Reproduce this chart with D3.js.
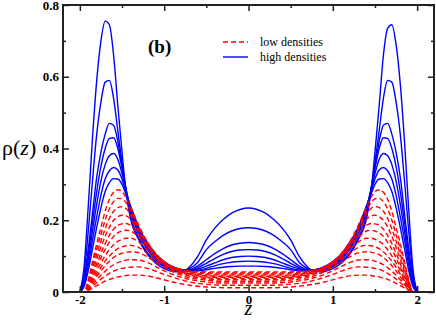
<!DOCTYPE html>
<html>
<head>
<meta charset="utf-8">
<script src="https://cdn.jsdelivr.net/npm/d3@7"></script>
<style>
  html, body { margin: 0; padding: 0; background: #fff; }
  svg { display: block; }
</style>
</head>
<body>
<div id="main"></div>
<script>
'use strict';

// z positions (same for every profile)
var zValues = [-2.0, -1.95, -1.9, -1.85, -1.8, -1.75, -1.7, -1.65, -1.6, -1.55, -1.5, -1.45, -1.4,
  -1.3, -1.2, -1.1, -1.0, -0.9, -0.8, -0.7, -0.6, -0.5, -0.4, -0.3, -0.2, -0.1, 0,
  0.1, 0.2, 0.3, 0.4, 0.5, 0.6, 0.7, 0.8, 0.9, 1.0, 1.1, 1.2, 1.3,
  1.4, 1.45, 1.5, 1.55, 1.6, 1.65, 1.7, 1.75, 1.8, 1.85, 1.9, 1.95, 2.0];

// high densities (solid blue)
var highDensities = [
  [0, 0.07, 0.24, 0.43, 0.59, 0.70, 0.755, 0.745, 0.66, 0.52, 0.39, 0.275, 0.205, 0.145, 0.105, 0.08, 0.065, 0.057, 0.056, 0.07, 0.10, 0.145, 0.178, 0.202, 0.22, 0.23, 0.234,
   0.23, 0.22, 0.202, 0.178, 0.145, 0.10, 0.07, 0.056, 0.057, 0.065, 0.08, 0.105, 0.145, 0.205, 0.275, 0.39, 0.52, 0.66, 0.735, 0.745, 0.69, 0.58, 0.42, 0.23, 0.065, 0],
  [0, 0.05, 0.17, 0.31, 0.44, 0.53, 0.585, 0.59, 0.54, 0.45, 0.36, 0.28, 0.215, 0.15, 0.11, 0.085, 0.07, 0.061, 0.058, 0.065, 0.083, 0.118, 0.14, 0.158, 0.17, 0.177, 0.179,
   0.177, 0.17, 0.158, 0.14, 0.118, 0.083, 0.065, 0.058, 0.061, 0.07, 0.085, 0.11, 0.15, 0.215, 0.28, 0.36, 0.45, 0.54, 0.59, 0.585, 0.53, 0.44, 0.31, 0.17, 0.05, 0],
  [0, 0.035, 0.12, 0.22, 0.32, 0.39, 0.44, 0.47, 0.465, 0.42, 0.35, 0.28, 0.225, 0.16, 0.118, 0.09, 0.073, 0.063, 0.059, 0.062, 0.073, 0.09, 0.107, 0.121, 0.131, 0.136, 0.138,
   0.136, 0.131, 0.121, 0.107, 0.09, 0.073, 0.062, 0.059, 0.063, 0.073, 0.09, 0.118, 0.16, 0.225, 0.28, 0.35, 0.42, 0.465, 0.47, 0.44, 0.39, 0.32, 0.22, 0.12, 0.035, 0],
  [0, 0.03, 0.105, 0.195, 0.28, 0.35, 0.40, 0.428, 0.43, 0.40, 0.345, 0.285, 0.23, 0.165, 0.122, 0.094, 0.076, 0.065, 0.06, 0.061, 0.068, 0.08, 0.093, 0.105, 0.113, 0.117, 0.118,
   0.117, 0.113, 0.105, 0.093, 0.08, 0.068, 0.061, 0.06, 0.065, 0.076, 0.094, 0.122, 0.165, 0.23, 0.285, 0.345, 0.40, 0.43, 0.428, 0.40, 0.35, 0.28, 0.195, 0.105, 0.03, 0],
  [0, 0.025, 0.09, 0.17, 0.245, 0.31, 0.355, 0.38, 0.386, 0.37, 0.33, 0.28, 0.235, 0.17, 0.128, 0.098, 0.079, 0.067, 0.061, 0.06, 0.064, 0.072, 0.081, 0.09, 0.096, 0.099, 0.100,
   0.099, 0.096, 0.09, 0.081, 0.072, 0.064, 0.06, 0.061, 0.067, 0.079, 0.098, 0.128, 0.17, 0.235, 0.28, 0.33, 0.37, 0.386, 0.38, 0.355, 0.31, 0.245, 0.17, 0.09, 0.025, 0],
  [0, 0.02, 0.075, 0.145, 0.21, 0.27, 0.315, 0.338, 0.347, 0.34, 0.315, 0.275, 0.24, 0.175, 0.133, 0.102, 0.082, 0.069, 0.062, 0.059, 0.061, 0.066, 0.073, 0.079, 0.083, 0.085, 0.086,
   0.085, 0.083, 0.079, 0.073, 0.066, 0.061, 0.059, 0.062, 0.069, 0.082, 0.102, 0.133, 0.175, 0.24, 0.275, 0.315, 0.34, 0.347, 0.338, 0.315, 0.27, 0.21, 0.145, 0.075, 0.02, 0],
  [0, 0.015, 0.06, 0.12, 0.18, 0.235, 0.28, 0.305, 0.316, 0.315, 0.30, 0.27, 0.24, 0.18, 0.138, 0.106, 0.085, 0.071, 0.063, 0.059, 0.059, 0.062, 0.066, 0.069, 0.071, 0.072, 0.072,
   0.072, 0.071, 0.069, 0.066, 0.062, 0.059, 0.059, 0.063, 0.071, 0.085, 0.106, 0.138, 0.18, 0.24, 0.27, 0.30, 0.315, 0.316, 0.305, 0.28, 0.235, 0.18, 0.12, 0.06, 0.015, 0]
];

// low densities (dashed red)
var lowDensities = [
  [0, 0, 0.035, 0.085, 0.135, 0.18, 0.225, 0.258, 0.278, 0.285, 0.28, 0.262, 0.238, 0.185, 0.14, 0.107, 0.085, 0.071, 0.063, 0.059, 0.057, 0.056, 0.056, 0.056, 0.056, 0.056, 0.056,
   0.056, 0.056, 0.056, 0.056, 0.056, 0.057, 0.059, 0.063, 0.071, 0.085, 0.107, 0.14, 0.185, 0.238, 0.262, 0.28, 0.285, 0.278, 0.258, 0.225, 0.18, 0.135, 0.085, 0.035, 0, 0],
  [0, 0, 0.03, 0.075, 0.12, 0.16, 0.2, 0.232, 0.252, 0.261, 0.26, 0.248, 0.228, 0.18, 0.138, 0.106, 0.084, 0.07, 0.062, 0.057, 0.055, 0.054, 0.053, 0.053, 0.053, 0.053, 0.053,
   0.053, 0.053, 0.053, 0.053, 0.054, 0.055, 0.057, 0.062, 0.07, 0.084, 0.106, 0.138, 0.18, 0.228, 0.248, 0.26, 0.261, 0.252, 0.232, 0.2, 0.16, 0.12, 0.075, 0.03, 0, 0],
  [0, 0, 0.026, 0.065, 0.105, 0.142, 0.176, 0.205, 0.225, 0.235, 0.238, 0.232, 0.217, 0.175, 0.136, 0.105, 0.083, 0.069, 0.06, 0.055, 0.052, 0.051, 0.05, 0.05, 0.05, 0.05, 0.05,
   0.05, 0.05, 0.05, 0.05, 0.051, 0.052, 0.055, 0.06, 0.069, 0.083, 0.105, 0.136, 0.175, 0.217, 0.232, 0.238, 0.235, 0.225, 0.205, 0.176, 0.142, 0.105, 0.065, 0.026, 0, 0],
  [0, 0, 0.022, 0.056, 0.092, 0.125, 0.155, 0.181, 0.2, 0.21, 0.214, 0.212, 0.203, 0.168, 0.133, 0.104, 0.082, 0.068, 0.059, 0.053, 0.05, 0.048, 0.047, 0.047, 0.047, 0.047, 0.047,
   0.047, 0.047, 0.047, 0.047, 0.048, 0.05, 0.053, 0.059, 0.068, 0.082, 0.104, 0.133, 0.168, 0.203, 0.212, 0.214, 0.21, 0.2, 0.181, 0.155, 0.125, 0.092, 0.056, 0.022, 0, 0],
  [0, 0, 0.019, 0.048, 0.079, 0.108, 0.135, 0.158, 0.175, 0.186, 0.19, 0.191, 0.186, 0.16, 0.129, 0.102, 0.081, 0.067, 0.057, 0.051, 0.047, 0.045, 0.044, 0.044, 0.044, 0.044, 0.044,
   0.044, 0.044, 0.044, 0.044, 0.045, 0.047, 0.051, 0.057, 0.067, 0.081, 0.102, 0.129, 0.16, 0.186, 0.191, 0.19, 0.186, 0.175, 0.158, 0.135, 0.108, 0.079, 0.048, 0.019, 0, 0],
  [0, 0, 0.016, 0.042, 0.069, 0.095, 0.119, 0.139, 0.155, 0.165, 0.17, 0.172, 0.17, 0.152, 0.125, 0.1, 0.08, 0.066, 0.056, 0.049, 0.045, 0.042, 0.041, 0.041, 0.041, 0.041, 0.041,
   0.041, 0.041, 0.041, 0.041, 0.042, 0.045, 0.049, 0.056, 0.066, 0.08, 0.1, 0.125, 0.152, 0.17, 0.172, 0.17, 0.165, 0.155, 0.139, 0.119, 0.095, 0.069, 0.042, 0.016, 0, 0],
  [0, 0, 0.014, 0.036, 0.059, 0.081, 0.101, 0.118, 0.132, 0.141, 0.147, 0.15, 0.15, 0.139, 0.118, 0.096, 0.078, 0.064, 0.054, 0.047, 0.043, 0.04, 0.038, 0.038, 0.038, 0.038, 0.038,
   0.038, 0.038, 0.038, 0.038, 0.04, 0.043, 0.047, 0.054, 0.064, 0.078, 0.096, 0.118, 0.139, 0.15, 0.15, 0.147, 0.141, 0.132, 0.118, 0.101, 0.081, 0.059, 0.036, 0.014, 0, 0],
  [0, 0, 0.012, 0.031, 0.05, 0.069, 0.086, 0.1, 0.112, 0.121, 0.126, 0.129, 0.13, 0.124, 0.108, 0.09, 0.074, 0.061, 0.051, 0.044, 0.04, 0.037, 0.035, 0.034, 0.034, 0.034, 0.034,
   0.034, 0.034, 0.034, 0.035, 0.037, 0.04, 0.044, 0.051, 0.061, 0.074, 0.09, 0.108, 0.124, 0.13, 0.129, 0.126, 0.121, 0.112, 0.1, 0.086, 0.069, 0.05, 0.031, 0.012, 0, 0],
  [0, 0, 0.01, 0.026, 0.043, 0.059, 0.073, 0.086, 0.096, 0.104, 0.108, 0.111, 0.112, 0.109, 0.098, 0.083, 0.069, 0.057, 0.047, 0.04, 0.036, 0.033, 0.031, 0.03, 0.03, 0.03, 0.03,
   0.03, 0.03, 0.03, 0.031, 0.033, 0.036, 0.04, 0.047, 0.057, 0.069, 0.083, 0.098, 0.109, 0.112, 0.111, 0.108, 0.104, 0.096, 0.086, 0.073, 0.059, 0.043, 0.026, 0.01, 0, 0],
  [0, 0, 0.008, 0.021, 0.034, 0.047, 0.058, 0.068, 0.076, 0.082, 0.086, 0.089, 0.09, 0.089, 0.082, 0.071, 0.059, 0.049, 0.041, 0.035, 0.031, 0.028, 0.026, 0.025, 0.025, 0.025, 0.025,
   0.025, 0.025, 0.025, 0.026, 0.028, 0.031, 0.035, 0.041, 0.049, 0.059, 0.071, 0.082, 0.089, 0.09, 0.089, 0.086, 0.082, 0.076, 0.068, 0.058, 0.047, 0.034, 0.021, 0.008, 0, 0],
  [0, 0, 0.006, 0.016, 0.026, 0.036, 0.044, 0.052, 0.058, 0.063, 0.066, 0.068, 0.069, 0.07, 0.066, 0.058, 0.049, 0.041, 0.034, 0.028, 0.024, 0.022, 0.02, 0.019, 0.019, 0.019, 0.019,
   0.019, 0.019, 0.019, 0.02, 0.022, 0.024, 0.028, 0.034, 0.041, 0.049, 0.058, 0.066, 0.07, 0.069, 0.068, 0.066, 0.063, 0.058, 0.052, 0.044, 0.036, 0.026, 0.016, 0.006, 0, 0],
  [0, 0, 0.004, 0.011, 0.018, 0.024, 0.03, 0.035, 0.039, 0.042, 0.044, 0.046, 0.047, 0.047, 0.045, 0.04, 0.034, 0.028, 0.023, 0.019, 0.016, 0.014, 0.013, 0.012, 0.012, 0.012, 0.012,
   0.012, 0.012, 0.012, 0.013, 0.014, 0.016, 0.019, 0.023, 0.028, 0.034, 0.04, 0.045, 0.047, 0.047, 0.046, 0.044, 0.042, 0.039, 0.035, 0.03, 0.024, 0.018, 0.011, 0.004, 0, 0]
];

var xTicks = [-2, -1, 0, 1, 2];
var xMinor = [-1.5, -0.5, 0.5, 1.5];
var yTicks = [0, 0.2, 0.4, 0.6, 0.8];
var yMinor = [0.1, 0.3, 0.5, 0.7];
var legendLabels = ['low densities', 'high densities'];

var width = 436;
var height = 321;
var margin = {top: 5, right: 2, bottom: 29, left: 63};
var plotW = width - margin.left - margin.right;
var plotH = height - margin.top - margin.bottom;
var serif = 'Liberation Serif, Times New Roman, serif';

var x = d3.scaleLinear().domain([-2.2, 2.2]).range([0, plotW]);
var y = d3.scaleLinear().domain([0, 0.8]).range([plotH, 0]);

var svg = d3.select('#main').append('svg')
  .attr('width', width)
  .attr('height', height);

var g = svg.append('g').attr('transform', 'translate(' + margin.left + ',' + margin.top + ')');

g.append('clipPath').attr('id', 'plotClip')
  .append('rect').attr('width', plotW).attr('height', plotH);

var line = d3.line()
  .x(function(d) { return x(d[0]); })
  .y(function(d) { return y(d[1]); })
  .curve(d3.curveMonotoneX);

function toPoints(vals) {
  return vals.map(function(v, i) { return [zValues[i], v]; });
}

var curves = g.append('g').attr('clip-path', 'url(#plotClip)');

curves.selectAll('path.high').data(highDensities).enter().append('path')
  .attr('class', 'high')
  .attr('d', function(d) { return line(toPoints(d)); })
  .attr('fill', 'none')
  .attr('stroke', '#0000ff')
  .attr('stroke-width', 1.4);

curves.selectAll('path.low').data(lowDensities).enter().append('path')
  .attr('class', 'low')
  .attr('d', function(d) { return line(toPoints(d)); })
  .attr('fill', 'none')
  .attr('stroke', '#ff0000')
  .attr('stroke-width', 1.4)
  .attr('stroke-dasharray', '5,3');

// axes: ticks point inwards on all four sides
var fmtX = function(d) { return String(d); };
var fmtY = function(d) { return d === 0 ? '0' : d3.format('.1f')(d); };

function styleAxis(sel) {
  sel.attr('font-family', serif).attr('font-size', 13);
  sel.select('.domain').remove();
  sel.selectAll('.tick line').attr('stroke', '#222').attr('stroke-width', 1.5);
  sel.selectAll('.tick text')
    .attr('font-family', serif)
    .attr('font-weight', 'bold')
    .attr('font-size', 13)
    .attr('fill', '#000');
}

g.append('g').attr('transform', 'translate(0,' + plotH + ')')
  .call(d3.axisBottom(x).tickValues(xTicks).tickSizeInner(-6).tickSizeOuter(0).tickPadding(3).tickFormat(fmtX))
  .call(styleAxis);
g.append('g').attr('transform', 'translate(0,' + plotH + ')')
  .call(d3.axisBottom(x).tickValues(xMinor).tickSizeInner(-3).tickSizeOuter(0).tickFormat(''))
  .call(styleAxis);
g.append('g')
  .call(d3.axisTop(x).tickValues(xTicks).tickSizeInner(-6).tickSizeOuter(0).tickFormat(''))
  .call(styleAxis);
g.append('g')
  .call(d3.axisTop(x).tickValues(xMinor).tickSizeInner(-3).tickSizeOuter(0).tickFormat(''))
  .call(styleAxis);

g.append('g')
  .call(d3.axisLeft(y).tickValues(yTicks).tickSizeInner(-6).tickSizeOuter(0).tickPadding(4).tickFormat(fmtY))
  .call(styleAxis);
g.append('g')
  .call(d3.axisLeft(y).tickValues(yMinor).tickSizeInner(-3).tickSizeOuter(0).tickFormat(''))
  .call(styleAxis);
g.append('g').attr('transform', 'translate(' + plotW + ',0)')
  .call(d3.axisRight(y).tickValues(yTicks).tickSizeInner(-6).tickSizeOuter(0).tickFormat(''))
  .call(styleAxis);
g.append('g').attr('transform', 'translate(' + plotW + ',0)')
  .call(d3.axisRight(y).tickValues(yMinor).tickSizeInner(-3).tickSizeOuter(0).tickFormat(''))
  .call(styleAxis);

// frame
g.append('rect')
  .attr('width', plotW)
  .attr('height', plotH)
  .attr('fill', 'none')
  .attr('stroke', '#222')
  .attr('stroke-width', 2);

// axis titles
var yTitle = svg.append('text')
  .attr('x', 2)
  .attr('y', 155)
  .attr('font-family', serif)
  .attr('font-size', '22px')
  .attr('fill', '#000');
yTitle.append('tspan').text('ρ(');
yTitle.append('tspan').attr('font-style', 'italic').text('z');
yTitle.append('tspan').text(')');

svg.append('text')
  .attr('x', margin.left + x(0))
  .attr('y', 315)
  .attr('text-anchor', 'middle')
  .attr('font-family', serif)
  .attr('font-style', 'italic')
  .attr('font-size', '20px')
  .attr('fill', '#000')
  .text('z');

// panel label
svg.append('text')
  .attr('x', 148)
  .attr('y', 53)
  .attr('font-family', serif)
  .attr('font-weight', 'bold')
  .attr('font-size', '19px')
  .attr('fill', '#000')
  .text('(b)');

// legend
var legend = svg.append('g');
legend.append('line')
  .attr('x1', 223).attr('x2', 248).attr('y1', 42).attr('y2', 42)
  .attr('stroke', '#ff0000').attr('stroke-width', 1.4).attr('stroke-dasharray', '5,3');
legend.append('line')
  .attr('x1', 223).attr('x2', 248).attr('y1', 57).attr('y2', 57)
  .attr('stroke', '#0000ff').attr('stroke-width', 1.4);
legend.selectAll('text').data(legendLabels).enter().append('text')
  .attr('x', 260)
  .attr('y', function(d, i) { return 46 + i * 15; })
  .attr('font-family', serif)
  .attr('font-size', '12px')
  .attr('fill', '#000')
  .text(function(d) { return d; });
</script>
</body>
</html>
